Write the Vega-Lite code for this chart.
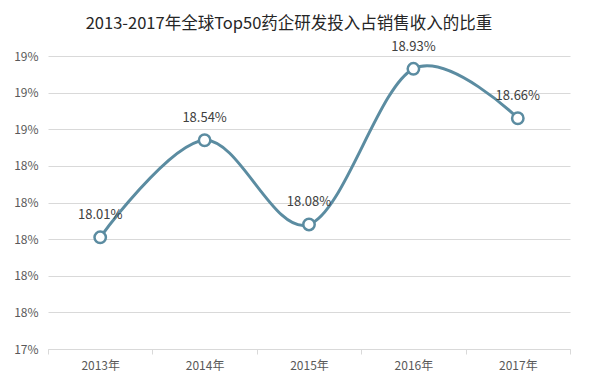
{
  "$schema": "https://vega.github.io/schema/vega-lite/v6.json",
  "width": 522,
  "height": 293,
  "autosize": {"type": "none"},
  "padding": {"left": 48, "top": 56, "right": 30, "bottom": 36},
  "background": "white",
  "title": {
    "text": "2013-2017年全球Top50药企研发投入占销售收入的比重",
    "font": "Noto Sans CJK SC",
    "fontSize": 16.5,
    "fontWeight": "normal",
    "color": "#262626",
    "anchor": "middle",
    "frame": "group",
    "dx": -20,
    "offset": 8
  },
  "config": {
    "view": {"stroke": null},
    "font": "Noto Sans CJK SC"
  },
  "data": {
    "values": [
      {"year": "2013年", "ratio": 0.1801},
      {"year": "2014年", "ratio": 0.1854},
      {"year": "2015年", "ratio": 0.1808},
      {"year": "2016年", "ratio": 0.1893},
      {"year": "2017年", "ratio": 0.1866}
    ]
  },
  "encoding": {
    "x": {
      "field": "year",
      "type": "nominal",
      "sort": null,
      "scale": {"type": "band", "paddingInner": 0, "paddingOuter": 0},
      "axis": {
        "title": null,
        "labelAngle": 0,
        "labelFont": "Noto Sans CJK SC",
        "labelFontSize": 12,
        "labelColor": "#595959",
        "labelPadding": 6,
        "tickBand": "extent",
        "ticks": true,
        "tickSize": 5,
        "tickColor": "#d9d9d9",
        "domainColor": "#d9d9d9",
        "grid": false
      }
    },
    "y": {
      "field": "ratio",
      "type": "quantitative",
      "scale": {"domain": [0.174, 0.19], "nice": false, "zero": false},
      "axis": {
        "title": null,
        "values": [0.174, 0.176, 0.178, 0.18, 0.182, 0.184, 0.186, 0.188, 0.19],
        "format": ".0%",
        "labelFont": "Noto Sans CJK SC",
        "labelFontSize": 12,
        "labelColor": "#595959",
        "labelPadding": 10,
        "ticks": false,
        "domain": false,
        "grid": true,
        "gridColor": "#d9d9d9",
        "gridWidth": 1
      }
    }
  },
  "layer": [
    {
      "mark": {"type": "line", "interpolate": "cardinal", "color": "#5b8ca1", "strokeWidth": 3}
    },
    {
      "mark": {"type": "point", "shape": "circle", "filled": true, "fill": "white", "stroke": "#5b8ca1", "strokeWidth": 2.5, "size": 130, "opacity": 1}
    },
    {
      "mark": {"type": "text", "dy": -22, "fontSize": 13, "color": "#404040", "font": "Noto Sans CJK SC"},
      "encoding": {"text": {"field": "ratio", "type": "quantitative", "format": ".2%"}}
    }
  ]
}
